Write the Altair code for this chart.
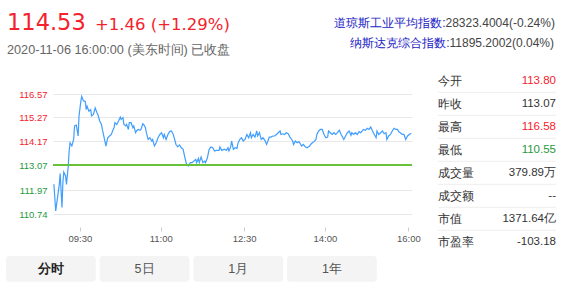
import altair as alt
import pandas as pd

# ---------------- data ----------------
minutes = [
    1, 3, 5, 7, 8, 10, 11, 12, 14, 15,
    17, 18, 19, 21, 23, 24, 26, 28, 29, 31,
    32, 34, 36, 37, 38, 40, 42, 43, 45, 47,
    49, 50, 52, 54, 55, 57, 59, 61, 63, 65,
    67, 68, 69, 71, 73, 75, 76, 78, 79, 81,
    82, 84, 85, 87, 89, 90, 92, 93, 95, 97,
    98, 100, 101, 103, 104, 106, 108, 110, 111, 113,
    115, 117, 119, 121, 123, 124, 126, 128, 130, 132,
    134, 136, 137, 139, 141, 143, 145, 147, 149, 151,
    153, 155, 157, 159, 160, 162, 163, 165, 167, 169,
    170, 172, 174, 176, 178, 180, 182, 185, 186, 188,
    191, 193, 195, 196, 198, 199, 201, 203, 205, 206,
    208, 210, 212, 214, 216, 218, 220, 221, 223, 225,
    227, 228, 230, 232, 234, 236, 238, 240, 241, 243,
    245, 247, 249, 251, 253, 254, 256, 258, 260, 262,
    264, 266, 267, 268, 270, 272, 274, 276, 277, 279,
    281, 283, 286, 287, 289, 291, 293, 294, 296, 298,
    300, 302, 304, 306, 307, 309, 311, 313, 315, 317,
    319, 321, 322, 324, 326, 328, 330, 332, 333, 335,
    337, 339, 341, 343, 345, 346, 348, 350, 352, 354,
    356, 358, 360, 361, 363, 365, 367, 369, 371, 372,
    374, 376, 378, 380, 382, 384, 385, 387, 389, 391,
    393, 395, 397, 399,
]
prices = [
    112.22, 110.90, 111.57, 112.22, 112.69, 111.08, 112.29, 112.76, 112.59, 112.22,
    113.03, 113.71, 114.09, 113.94, 114.24, 114.86, 114.90, 114.40, 115.33, 116.15,
    116.43, 116.18, 116.15, 115.69, 115.88, 115.60, 115.69, 115.33, 115.41, 115.78,
    115.51, 115.41, 115.09, 114.93, 114.70, 114.32, 113.94, 114.32, 114.40, 114.47,
    114.70, 114.78, 115.01, 114.93, 115.09, 115.27, 115.16, 115.24, 114.93, 114.86,
    114.93, 114.70, 115.01, 115.01, 114.78, 114.86, 114.55, 114.63, 114.70, 114.66,
    114.70, 114.96, 114.93, 114.78, 114.55, 114.24, 114.32, 114.17, 114.24, 113.94,
    114.09, 114.32, 114.47, 114.55, 114.32, 114.47, 114.24, 114.47, 114.60, 114.63,
    114.47, 114.17, 114.01, 113.90, 113.99, 113.86, 113.79, 113.40, 113.07, 113.03,
    113.18, 113.18, 113.25, 113.33, 113.18, 113.37, 113.18, 113.44, 113.18, 113.25,
    113.18, 113.40, 113.79, 113.90, 113.86, 113.71, 113.74, 113.74, 113.90, 113.74,
    113.79, 113.74, 113.86, 113.71, 113.90, 114.17, 113.79, 113.86, 113.83, 114.05,
    114.24, 114.32, 114.17, 114.24, 114.47, 114.32, 114.55, 114.32, 114.47, 114.35,
    114.63, 114.40, 114.55, 114.24, 114.32, 114.20, 114.01, 114.24, 114.35, 114.35,
    114.40, 114.40, 114.47, 114.55, 114.63, 114.47, 114.50, 114.47, 114.55, 114.50,
    114.35, 114.24, 114.17, 114.01, 114.17, 114.09, 114.14, 114.01, 113.94, 114.01,
    113.90, 113.86, 113.94, 114.01, 114.09, 114.14, 114.24, 114.47, 114.63, 114.70,
    114.70, 114.47, 114.32, 114.35, 114.63, 114.55, 114.47, 114.55, 114.47, 114.55,
    114.66, 114.47, 114.40, 114.24, 114.40, 114.55, 114.63, 114.43, 114.55, 114.47,
    114.55, 114.47, 114.60, 114.55, 114.66, 114.70, 114.66, 114.75, 114.70, 114.81,
    114.63, 114.47, 114.32, 114.63, 114.47, 114.55, 114.63, 114.50, 114.55, 114.24,
    114.40, 114.47, 114.63, 114.75, 114.70, 114.70, 114.60, 114.55, 114.47, 114.47,
    114.24, 114.40, 114.47, 114.53,
]

tick_minutes = [30, 120, 213, 303, 396]
tick_labels = ["09:30", "11:00", "12:30", "14:00", "16:00"]
y_ticks = [110.74, 111.97, 113.07, 114.17, 115.27, 116.57]
prev_close = 113.07

last_price = "114.53"
change_text = "+1.46 (+1.29%)"
date_text = "2020-11-06 16:00:00 (美东时间) 已收盘"
index_names = ["道琼斯工业平均指数:", "纳斯达克综合指数:"]
index_values = ["28323.4004(-0.24%)", "11895.2002(0.04%)"]
stat_labels = ["今开", "昨收", "最高", "最低", "成交量", "成交额", "市值", "市盈率"]
stat_values = ["113.80", "113.07", "116.58", "110.55", "379.89万", "--", "1371.64亿", "-103.18"]
stat_trend = ["up", "flat", "up", "down", "flat", "flat", "flat", "flat"]
tabs = ["分时", "5日", "1月", "1年"]

# ---------------- style / layout ----------------
RED = "#f5222d"
GREEN = "#1f9a3c"
DARK = "#333333"
BLUE = "#2222c4"
LINE = "#409eff"
BASE = "#67c23a"
trend_color = {"up": RED, "down": GREEN, "flat": DARK}

W, H = 359, 147
OX, OY = 53, 80          # plot origin inside the 567x288 page
y_range_px = [134, 110, 85, 61, 37, 14]  # pixel rows of the gridlines (bottom -> top)

FONT = "Liberation Sans"

# ---------------- main chart ----------------
df = pd.DataFrame({"t": minutes, "p": prices})

label_expr = " : ".join(
    f"datum.value == {m} ? '{l}'" for m, l in zip(tick_minutes, tick_labels)
) + " : ''"

x_enc = alt.X(
    "t:Q",
    scale=alt.Scale(domain=[0, 400], nice=False, zero=False),
    axis=alt.Axis(
        values=tick_minutes, tickCount=len(tick_minutes), labelExpr=label_expr,
        title=None, grid=False,
        domain=False, ticks=True, tickColor="#cccccc", tickSize=4,
        labelFontSize=9.5, labelColor="#555555", labelFont=FONT,
        labelPadding=2, labelOverlap=False, labelFlush=False,
    ),
)
y_scale = alt.Scale(domain=y_ticks, range=y_range_px, zero=False, nice=False)
y_enc = alt.Y(
    "p:Q",
    scale=y_scale,
    axis=alt.Axis(
        values=y_ticks, tickCount=len(y_ticks), format=".2f", title=None,
        grid=True, gridColor="#e8e8e8",
        domain=False, ticks=False, labelPadding=6, labelFontSize=9.5, labelFont=FONT,
        labelOverlap=False, labelFlush=False,
        labelColor=alt.condition(f"datum.value > {prev_close + 0.005}",
                                 alt.value(RED), alt.value(GREEN)),
    ),
)

line = alt.Chart(df).mark_line(color=LINE, strokeWidth=1.2).encode(x=x_enc, y=y_enc)
base_rule = alt.Chart(df).mark_rule(color=BASE, strokeWidth=1.3).encode(
    y=alt.datum(prev_close, scale=y_scale)
)


def rel(xs, ys):
    return [x - OX for x in xs], [y - OY for y in ys]


def text_layer(xs, ys, texts, colors, size, align="left", baseline="middle",
               font=FONT, weight="normal"):
    rx, ry = rel(xs, ys)
    d = pd.DataFrame({"x": rx, "y": ry, "text": texts, "color": colors})
    return alt.Chart(d).mark_text(
        align=align, baseline=baseline, font=font, fontSize=size, fontWeight=weight
    ).encode(
        x=alt.X("x:Q", scale=None),
        y=alt.Y("y:Q", scale=None),
        text="text:N",
        color=alt.Color("color:N", scale=None),
    )


layers = [line, base_rule]

# header
layers.append(text_layer([7], [29.5], [last_price], [RED], 22.5, baseline="alphabetic",
                         font="DejaVu Sans"))
layers.append(text_layer([95], [29.5], [change_text], [RED], 16.5, baseline="alphabetic",
                         font="DejaVu Sans"))
layers.append(text_layer([7], [53.5], [date_text], ["#666666"], 12.7, baseline="alphabetic"))

# index quotes
idx_x = [445.5, 449.5]
idx_y = [23.3, 43.3]
layers.append(text_layer(idx_x, idx_y, index_names, [BLUE, BLUE], 12, align="right"))
layers.append(text_layer(idx_x, idx_y, index_values, ["#444444", "#444444"], 12))

# stats table
row_y = [80.7 + 23 * i for i in range(len(stat_labels))]
layers.append(text_layer([438] * len(stat_labels), row_y, stat_labels,
                         [DARK] * len(stat_labels), 12))
layers.append(text_layer([556] * len(stat_values), row_y, stat_values,
                         [trend_color[k] for k in stat_trend], 11.5, align="right"))
sep_y = [92.3 + 23 * i for i in range(len(stat_labels) - 1)]
sx, sy = rel([438] * len(sep_y), sep_y)
sx2, _ = rel([556] * len(sep_y), sep_y)
sep_df = pd.DataFrame({"x": sx, "x2": sx2, "y": sy})
layers.append(alt.Chart(sep_df).mark_rule(color="#eeeeee", strokeWidth=1).encode(
    x=alt.X("x:Q", scale=None), x2="x2:Q", y=alt.Y("y:Q", scale=None)))

# tabs
tab_x0 = [6 + 93.7 * i for i in range(len(tabs))]
tab_x1 = [x + 89.7 for x in tab_x0]
tx0, ty0 = rel(tab_x0, [256] * len(tabs))
tx1, ty1 = rel(tab_x1, [281.7] * len(tabs))
tab_df = pd.DataFrame({"x": tx0, "x2": tx1, "y": ty0, "y2": ty1})
layers.append(alt.Chart(tab_df).mark_rect(fill="#f4f4f4", cornerRadius=3).encode(
    x=alt.X("x:Q", scale=None), x2="x2:Q",
    y=alt.Y("y:Q", scale=None), y2="y2:Q"))
tab_cx = [x + 44.85 for x in tab_x0]
layers.append(text_layer(tab_cx[:1], [269], tabs[:1], ["#222222"], 12.5,
                         align="center", weight="bold"))
layers.append(text_layer(tab_cx[1:], [269] * 3, tabs[1:], ["#555555"] * 3, 12.5,
                         align="center"))

chart = alt.layer(*layers).properties(
    width=W, height=H,
    autosize=alt.AutoSizeParams(type="none"),
    padding={"left": OX, "top": OY, "right": 567 - OX - W, "bottom": 288 - OY - H},
    background="white",
).configure_view(stroke=None)

chart.save("out.html", embed_options={"renderer": "svg", "actions": False})
